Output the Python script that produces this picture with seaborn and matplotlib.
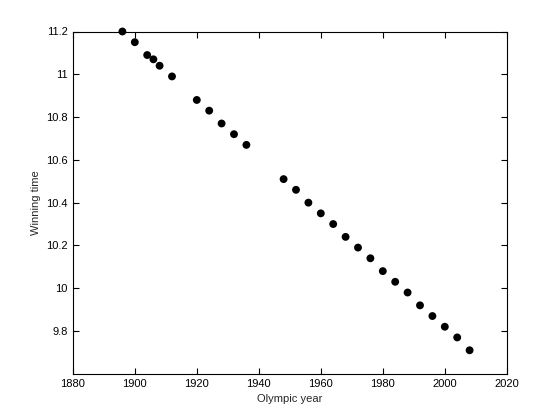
import pandas as pd
import matplotlib
matplotlib.use("Agg")
import matplotlib.pyplot as plt
import seaborn as sns

years = [1896, 1900, 1904, 1906, 1908, 1912, 1920, 1924, 1928, 1932, 1936,
         1948, 1952, 1956, 1960, 1964, 1968, 1972, 1976, 1980, 1984, 1988,
         1992, 1996, 2000, 2004, 2008]
times = [11.20, 11.15, 11.09, 11.07, 11.04, 10.99, 10.88, 10.83, 10.77, 10.72, 10.67,
         10.51, 10.46, 10.40, 10.35, 10.30, 10.24, 10.19, 10.14, 10.08, 10.03, 9.98,
         9.92, 9.87, 9.82, 9.77, 9.71]
x_ticks = [1880, 1900, 1920, 1940, 1960, 1980, 2000, 2020]
y_ticks = [9.8, 10, 10.2, 10.4, 10.6, 10.8, 11, 11.2]

df = pd.DataFrame({"year": years, "time": times})

sns.set_style("ticks")
plt.rcParams["font.family"] = ["Liberation Sans", "DejaVu Sans"]
plt.rcParams["font.size"] = 8

fig = plt.figure(figsize=(5.6, 4.2), dpi=100)
ax = fig.add_axes([0.13, 0.11, 0.775, 0.815])
sns.scatterplot(data=df, x="year", y="time", color="black", s=32,
                edgecolor="none", ax=ax, clip_on=False, zorder=3)

ax.set_xlim(1880, 2020)
ax.set_ylim(9.6, 11.2)
ax.set_xticks(x_ticks)
ax.set_xticklabels([str(t) for t in x_ticks])
ax.set_yticks(y_ticks)
ax.set_yticklabels(["9.8", "10", "10.2", "10.4", "10.6", "10.8", "11", "11.2"])
ax.tick_params(direction="in", top=True, right=True, length=4, width=0.8,
               labelsize=8, colors="black")
for sp in ax.spines.values():
    sp.set_visible(True)
    sp.set_color("black")
    sp.set_linewidth(0.8)
ax.set_xlabel("Olympic year", fontsize=8)
ax.set_ylabel("Winning time", fontsize=8)

fig.savefig("out.png", dpi=100, facecolor="white")
